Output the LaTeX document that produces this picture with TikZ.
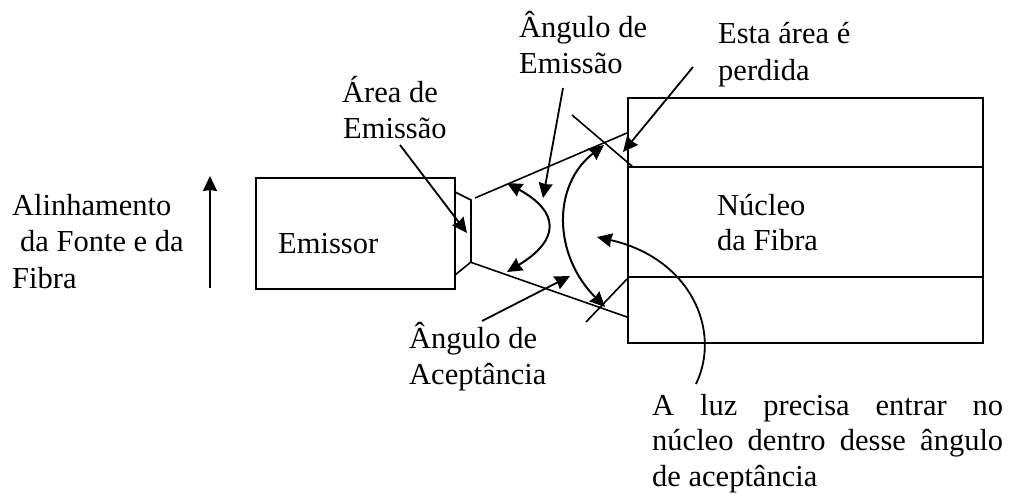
\documentclass[tikz,border=0pt]{standalone}
\usepackage{fontspec}
\setmainfont{Liberation Serif}
\usetikzlibrary{arrows.meta}
\tikzset{lbl/.style={inner sep=0pt,anchor=base west,font=\fontsize{30.5}{35}\selectfont},
ln/.style={line width=1.6pt,black},
arr/.style={line width=1.8pt,black,-{Stealth[length=15pt,width=14pt,inset=1pt]}},
darr/.style={line width=2pt,black,{Stealth[length=15pt,width=14pt,inset=1pt]}-{Stealth[length=15pt,width=14pt,inset=1pt]}}}
\begin{document}
\begin{tikzpicture}[x=1pt,y=-1pt]
\useasboundingbox (0,0) rectangle (1009,493);
\fill[white] (0,0) rectangle (1009,493);
\node[draw,ln,minimum width=199pt,minimum height=111pt,inner sep=0pt,anchor=north west] (em) at (255,177) {};
\node[lbl] (emt) at (278,253) {Emissor};
\node[draw,ln,minimum width=355pt,minimum height=245pt,inner sep=0pt,anchor=north west] (fib) at (627,97) {};
\coordinate (c1) at (627,167);\coordinate (c1e) at (984,167);
\coordinate (c2) at (627,277);\coordinate (c2e) at (984,277);
\draw[ln] (c1)--(c1e); \draw[ln] (c2)--(c2e);
\draw[ln] (455,192)--(471,200)--(471,262)--(455,275);
\draw[ln] (475,198)--(627,133);
\draw[ln] (470,262)--(627,317);
\draw[ln] (572,115)--(633,167);
\draw[ln] (586,322)--(627,279);
\coordinate (h1) at (507,183);\coordinate (h2) at (507,272);
\draw[darr] (h1) .. controls (560,212) and (560,240) .. (h2);
\coordinate (h3) at (604,145);\coordinate (h4) at (605,307);
\draw[darr] (h3) .. controls (552,185) and (553,255) .. (h4);
\node[lbl] at (519,37) {Ângulo de};
\node[lbl] at (519,73) {Emissão};
\node[lbl] at (718,43) {Esta área é};
\node[lbl] at (718,80) {perdida};
\node[lbl] at (342,102) {Área de};
\node[lbl] at (343,138) {Emissão};
\node[lbl] at (12,215) {Alinhamento};
\node[lbl] at (20,251) {da Fonte e da};
\node[lbl] at (12,288) {Fibra};
\node[lbl] at (409,348) {Ângulo de};
\node[lbl] at (409,384) {Aceptância};
\node[lbl] at (717,215) {Núcleo};
\node[lbl] at (717,250) {da Fibra};
\node[lbl] at (652,415) {\hbox to 351pt{A\hfill luz\hfill precisa\hfill entrar\hfill no}};
\node[lbl] at (652,450) {\hbox to 351pt{núcleo\hfill dentro\hfill desse\hfill ângulo}};
\node[lbl] at (652,486) {de aceptância};
\coordinate (u1) at (210,288);\coordinate (u2) at (210,176);
\draw[arr] (u1)--(u2);
\coordinate (p1) at (400,145);\coordinate (p2) at (467,233);
\draw[arr] (p1)--(p2);
\coordinate (q1) at (563,88);\coordinate (q2) at (543,198);
\draw[arr] (q1)--(q2);
\coordinate (r1) at (693,67);\coordinate (r2) at (623,152);
\draw[arr] (r1)--(r2);
\coordinate (s1) at (482,321);\coordinate (s2) at (570,276);
\draw[arr] (s1)--(s2);
\coordinate (t1) at (696,384);\coordinate (t2) at (597,237);
\draw[arr] (t1) .. controls (722,330) and (690,258) .. (t2);
\end{tikzpicture}
\end{document}
